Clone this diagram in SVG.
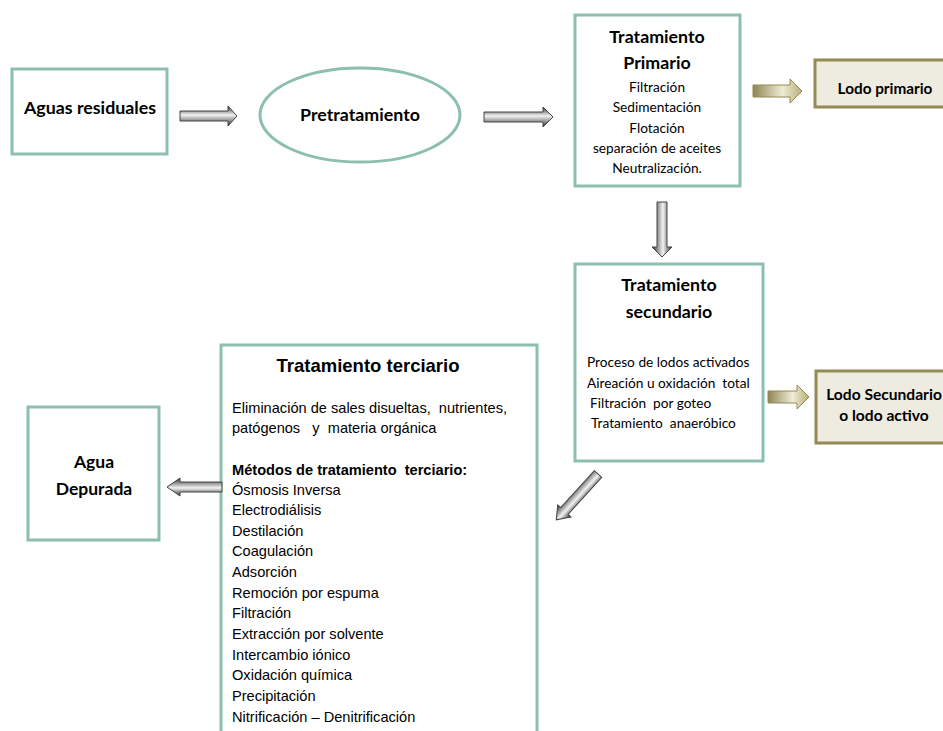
<svg xmlns="http://www.w3.org/2000/svg" width="943" height="731" viewBox="0 0 943 731">
<defs>
<linearGradient id="gray" x1="0" y1="0" x2="0" y2="1">
<stop offset="0" stop-color="#2e2e2e"/>
<stop offset="0.45" stop-color="#f2f2f2"/>
<stop offset="1" stop-color="#2e2e2e"/>
</linearGradient>
<linearGradient id="olive" x1="0" y1="0" x2="1" y2="0">
<stop offset="0" stop-color="#8f8552"/>
<stop offset="0.6" stop-color="#efecd6"/>
<stop offset="1" stop-color="#b8ae76"/>
</linearGradient>
<style>
.box{fill:#ffffff;stroke:#8cbfb0;stroke-width:3}
.lodo{fill:#eeece1;stroke:#948a54;stroke-width:3}
.ga{fill:url(#gray);stroke:#444;stroke-width:1}
.oa{fill:url(#olive);stroke:#948a54;stroke-width:1}
.cb{font-family:Lato,"Liberation Sans",sans-serif;font-weight:bold;fill:#000;text-anchor:middle}
.cr{font-family:Lato,"Liberation Sans",sans-serif;fill:#000;font-size:13.7px}
.ar{font-family:"Liberation Sans",Arial,sans-serif;fill:#000;font-size:14.6px}
</style>
</defs>
<g id="aguas-residuales">
<rect class="box" x="12" y="69" width="155" height="85"/>
<text class="cb" x="90" y="114" font-size="17.8">Aguas residuales</text>
</g>
<g id="pretratamiento">
<ellipse class="box" cx="360" cy="115" rx="100" ry="47"/>
<text class="cb" x="360" y="121" font-size="17.8">Pretratamiento</text>
</g>
<g id="tratamiento-primario">
<rect class="box" x="575" y="15" width="165" height="171"/>
<text class="cb" x="657" y="43" font-size="17.8">Tratamiento</text>
<text class="cb" x="657" y="69" font-size="17.8">Primario</text>
<g class="cr" text-anchor="middle">
<text x="657" y="92">Filtración</text>
<text x="657" y="112">Sedimentación</text>
<text x="657" y="133">Flotación</text>
<text x="657" y="153">separación de aceites</text>
<text x="657" y="173">Neutralización.</text>
</g>
</g>
<g id="lodo-primario">
<rect class="lodo" x="815" y="60" width="135" height="47"/>
<text class="cb" x="885" y="94" font-size="15.3">Lodo primario</text>
</g>
<g id="tratamiento-secundario">
<rect class="box" x="575" y="264" width="188" height="197"/>
<text class="cb" x="669" y="291" font-size="17.8">Tratamiento</text>
<text class="cb" x="669" y="318" font-size="17.8">secundario</text>
<g class="cr">
<text x="587" y="367">Proceso de lodos activados</text>
<text x="587" y="388" xml:space="preserve">Aireación u oxidación  total</text>
<text x="590" y="408" xml:space="preserve">Filtración  por goteo</text>
<text x="591" y="428" xml:space="preserve">Tratamiento  anaeróbico</text>
</g>
</g>
<g id="lodo-secundario">
<rect class="lodo" x="816" y="371" width="135" height="72"/>
<text class="cb" x="884" y="400" font-size="15.6">Lodo Secundario</text>
<text class="cb" x="884" y="421" font-size="15.6">o lodo activo</text>
</g>
<g id="tratamiento-terciario">
<rect class="box" x="221" y="345" width="316" height="400"/>
<text x="368" y="372" font-family="Liberation Sans, Arial, sans-serif" font-weight="bold" font-size="18.5" text-anchor="middle">Tratamiento terciario</text>
<g class="ar">
<text x="232" y="413" xml:space="preserve">Eliminación de sales disueltas,  nutrientes,</text>
<text x="232" y="433" xml:space="preserve">patógenos   y  materia orgánica</text>
<text x="232" y="475" font-weight="bold" xml:space="preserve">Métodos de tratamiento  terciario:</text>
<text x="232" y="495">Ósmosis Inversa</text>
<text x="232" y="515">Electrodiálisis</text>
<text x="232" y="536">Destilación</text>
<text x="232" y="556">Coagulación</text>
<text x="232" y="577">Adsorción</text>
<text x="232" y="598">Remoción por espuma</text>
<text x="232" y="618">Filtración</text>
<text x="232" y="639">Extracción por solvente</text>
<text x="232" y="660">Intercambio iónico</text>
<text x="232" y="680">Oxidación química</text>
<text x="232" y="701">Precipitación</text>
<text x="232" y="722">Nitrificación – Denitrificación</text>
</g>
</g>
<g id="agua-depurada">
<rect class="box" x="28" y="407" width="131" height="133"/>
<text class="cb" x="94" y="468" font-size="17.5">Agua</text>
<text class="cb" x="94" y="495" font-size="17.5">Depurada</text>
</g>
<g id="connectors">
<path class="ga" transform="translate(180,116)" d="M0,-5 H48 V-10 L57,0 L48,10 V5 H0 Z"/>
<path class="ga" transform="translate(484,117)" d="M0,-5 H59 V-10 L69,0 L59,10 V5 H0 Z"/>
<path class="ga" transform="translate(662,202) rotate(90)" d="M0,-5 H45 V-10 L55,0 L45,10 V5 H0 Z"/>
<path class="ga" transform="translate(222,487) rotate(180)" d="M0,-5 H42 V-9 L55,0 L42,9 V5 H0 Z"/>
<path class="ga" transform="translate(598,474) rotate(132.3)" d="M0,-5 H50 V-9 L62,0 L50,9 V5 H0 Z"/>
<path class="oa" transform="translate(753,91)" d="M0,-6 H37 V-12 L49,0 L37,12 V6 H0 Z"/>
<path class="oa" transform="translate(768,397)" d="M0,-6 H29 V-12 L41,0 L29,12 V6 H0 Z"/>
</g>
</svg>
